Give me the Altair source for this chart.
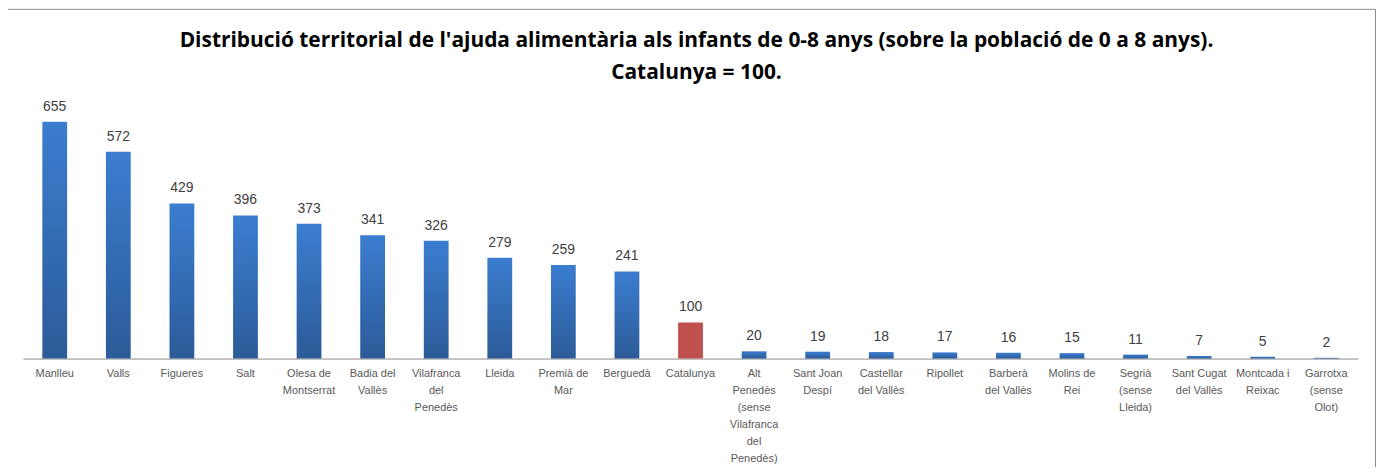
import altair as alt
import pandas as pd

title_lines = [
    "Distribució territorial de l'ajuda alimentària als infants de 0-8 anys (sobre la població de 0 a 8 anys).",
    "Catalunya = 100.",
]
labels = [
    "Manlleu", "Valls", "Figueres", "Salt", "Olesa de\nMontserrat",
    "Badia del\nVallès", "Vilafranca\ndel\nPenedès", "Lleida", "Premià de\nMar",
    "Berguedà", "Catalunya",
    "Alt\nPenedès\n(sense\nVilafranca\ndel\nPenedès)",
    "Sant Joan\nDespí", "Castellar\ndel Vallès", "Ripollet", "Barberà\ndel Vallès",
    "Molins de\nRei", "Segrià\n(sense\nLleida)", "Sant Cugat\ndel Vallès",
    "Montcada i\nReixac", "Garrotxa\n(sense\nOlot)",
]
values = [655, 572, 429, 396, 373, 341, 326, 279, 259, 241, 100,
          20, 19, 18, 17, 16, 15, 11, 7, 5, 2]
highlight = "Catalunya"

df = pd.DataFrame({"cat": labels, "val": values})
df["is_ref"] = df["cat"] == highlight

W, H = 1340, 254

x_enc = alt.X(
    "cat:N", sort=labels, title=None,
    scale=alt.Scale(paddingInner=0.61, paddingOuter=0.305),
    axis=alt.Axis(
        labelAngle=0, ticks=False, domainColor="#8c8c8c", domainWidth=1,
        labelExpr="split(datum.label, '\\n')", labelLineHeight=17,
        labelPadding=9, labelFontSize=11, labelColor="#595959",
        labelFont="Liberation Sans", labelLimit=0, labelBaseline="top",
    ),
)
y_enc = alt.Y("val:Q", scale=alt.Scale(domain=[0, 700]), axis=None, title=None)

blue_grad = alt.Gradient(
    gradient="linear",
    stops=[alt.GradientStop(color="#3b7dd0", offset=0),
           alt.GradientStop(color="#2c5b98", offset=1)],
    x1=0, x2=0, y1=0, y2=1,
)

base = alt.Chart(df)

bars_blue = base.transform_filter("!datum.is_ref").mark_bar(color=blue_grad).encode(x=x_enc, y=y_enc)
bars_red = base.transform_filter("datum.is_ref").mark_bar(color="#c0504d").encode(x=x_enc, y=y_enc)

text = base.mark_text(
    dy=-11, baseline="alphabetic", fontSize=14, color="#404040", font="Liberation Sans"
).encode(x=x_enc, y=y_enc, text="val:Q")

one = df.head(1)
border = alt.Chart(one).mark_rect(
    fill=None, stroke="#8c8c8c", strokeWidth=1
).encode(
    x=alt.value(-15.5), x2=alt.value(1357.5), y=alt.value(-96.5), y2=alt.value(420)
)

title1 = alt.Chart(one).mark_text(
    text=title_lines[0], font="Open Sans", fontSize=21, fontWeight="bold",
    color="#000000", baseline="middle", align="center",
).encode(x=alt.value(676), y=alt.value(-65))
title2 = alt.Chart(one).mark_text(
    text=title_lines[1], font="Open Sans", fontSize=21, fontWeight="bold",
    color="#000000", baseline="middle", align="center",
).encode(x=alt.value(676), y=alt.value(-33))

chart = alt.layer(border, title1, title2, bars_blue, bars_red, text).properties(
    width=W, height=H,
    autosize=alt.AutoSizeParams(type="none"),
    padding={"left": 15, "top": 97, "right": 20, "bottom": 108},
).configure_view(stroke=None)

chart.save("out.html", embed_options={"renderer": "svg", "actions": False})
